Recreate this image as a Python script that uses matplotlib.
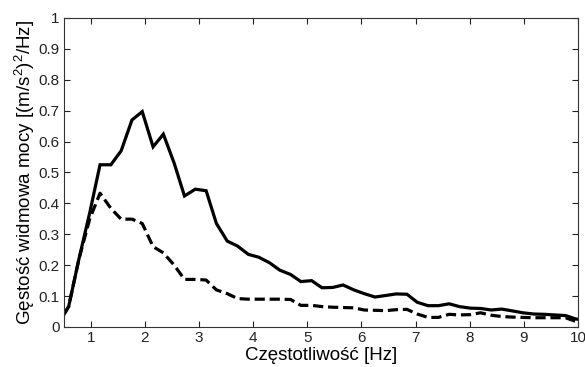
import matplotlib
matplotlib.use("Agg")
import matplotlib.pyplot as plt
from matplotlib.ticker import FuncFormatter

plt.rcParams['font.family'] = ['Liberation Sans', 'DejaVu Sans']
plt.rcParams['mathtext.fontset'] = 'custom'
plt.rcParams['mathtext.rm'] = 'Liberation Sans'
plt.rcParams['mathtext.it'] = 'Liberation Sans:italic'

# frequency axis [Hz]
freq = [0.50, 0.59, 0.78, 0.98, 1.17, 1.37, 1.56, 1.76, 1.95, 2.15,
        2.34, 2.54, 2.73, 2.93, 3.13, 3.32, 3.52, 3.71, 3.91, 4.10,
        4.30, 4.49, 4.69, 4.88, 5.08, 5.27, 5.47, 5.66, 5.86, 6.05,
        6.25, 6.45, 6.64, 6.84, 7.03, 7.23, 7.42, 7.62, 7.81, 8.01,
        8.20, 8.40, 8.59, 8.79, 8.98, 9.18, 9.38, 9.57, 9.77, 9.96, 10.0]

# PSD, solid curve
psd_solid = [0.040, 0.066, 0.220, 0.370, 0.525, 0.525, 0.570, 0.670, 0.697, 0.583,
             0.624, 0.530, 0.424, 0.446, 0.441, 0.335, 0.278, 0.262, 0.235, 0.226,
             0.208, 0.184, 0.170, 0.147, 0.150, 0.127, 0.128, 0.136, 0.120, 0.108,
             0.097, 0.102, 0.107, 0.106, 0.080, 0.069, 0.069, 0.075, 0.066, 0.061,
             0.060, 0.055, 0.058, 0.052, 0.046, 0.042, 0.041, 0.039, 0.037, 0.026, 0.025]

# PSD, dashed curve
psd_dashed = [0.040, 0.066, 0.220, 0.350, 0.433, 0.384, 0.349, 0.349, 0.335, 0.260,
              0.240, 0.200, 0.154, 0.154, 0.152, 0.120, 0.108, 0.092, 0.090, 0.090,
              0.090, 0.090, 0.089, 0.070, 0.070, 0.066, 0.064, 0.063, 0.062, 0.055,
              0.054, 0.053, 0.056, 0.057, 0.042, 0.031, 0.031, 0.041, 0.039, 0.040,
              0.046, 0.038, 0.034, 0.032, 0.031, 0.030, 0.030, 0.030, 0.030, 0.018, 0.017]

xticks = [1, 2, 3, 4, 5, 6, 7, 8, 9, 10]
yticks = [0, 0.1, 0.2, 0.3, 0.4, 0.5, 0.6, 0.7, 0.8, 0.9, 1]

fig = plt.figure(figsize=(5.85, 3.67), dpi=100)
ax = fig.add_axes([0.109, 0.109, 0.879, 0.842])

ax.plot(freq, psd_solid, color='black', linewidth=2.3, solid_joinstyle='miter')
ax.plot(freq, psd_dashed, color='black', linewidth=2.3, linestyle=(0, (3.2, 1.5)))

ax.set_xlim(0.5, 10)
ax.set_ylim(0, 1)
ax.set_xticks(xticks)
ax.set_yticks(yticks)
ax.yaxis.set_major_formatter(FuncFormatter(lambda v, p: '%g' % v))
ax.tick_params(direction='in', top=True, right=True, length=4, width=0.8,
               labelsize=11, colors='#222222', pad=3)
for s in ax.spines.values():
    s.set_linewidth(0.8)
    s.set_color('#333333')

ax.set_xlabel('Częstotliwość [Hz]', fontsize=13.5, labelpad=1)
ax.set_ylabel(r'Gęstość widmowa mocy [(m/s$^2$)$^2$/Hz]', fontsize=13.5, labelpad=1)

fig.savefig('out.png', dpi=100)
